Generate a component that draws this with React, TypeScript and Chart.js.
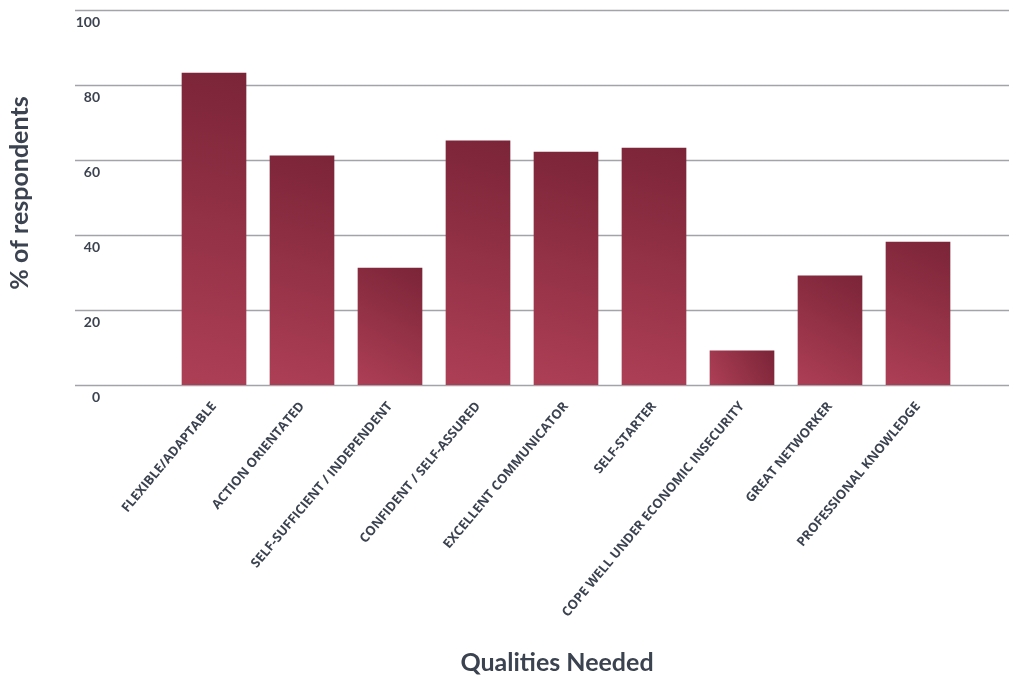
import { useEffect, useRef } from "react";
import { Chart, registerables } from "chart.js";

Chart.register(...registerables);

// Qualities and the share of respondents who named each one
const qualities = [
  "FLEXIBLE/ADAPTABLE",
  "ACTION ORIENTATED",
  "SELF-SUFFICIENT / INDEPENDENT",
  "CONFIDENT / SELF-ASSURED",
  "EXCELLENT COMMUNICATOR",
  "SELF-STARTER",
  "COPE WELL UNDER ECONOMIC INSECURITY",
  "GREAT NETWORKER",
  "PROFESSIONAL KNOWLEDGE",
];
const respondentShare = [83.2, 61.1, 31.2, 65.1, 62.1, 63.2, 9.1, 29.1, 38.1];
const yTickValues = [0, 20, 40, 60, 80, 100];

const xTitle = "Qualities Needed";
const yTitle = "% of respondents";

const TEXT = "#3c4350";
const BAR_DARK = "#7b2438";
const BAR_LIGHT = "#ad3f55";
const GRID = "#a2a4a9";
const BAR_HALF = 32;

// Horizontal rules, value labels and axis titles drawn straight from the y scale
const framePlugin = {
  id: "frame",
  beforeDatasetsDraw(chart: any) {
    const { ctx, scales } = chart;
    const y = scales.y;
    ctx.save();
    ctx.strokeStyle = GRID;
    ctx.lineWidth = 1.5;
    yTickValues.forEach((v) => {
      const py = Math.round(y.getPixelForValue(v)) + 0.5;
      ctx.beginPath();
      ctx.moveTo(75, py);
      ctx.lineTo(chart.width, py);
      ctx.stroke();
    });
    ctx.restore();
  },
  afterDraw(chart: any) {
    const { ctx, scales } = chart;
    const y = scales.y;
    ctx.save();
    ctx.fillStyle = TEXT;
    ctx.font = "bold 14px Lato";
    ctx.textAlign = "right";
    ctx.textBaseline = "middle";
    yTickValues.forEach((v) => {
      ctx.fillText(String(v), 100, y.getPixelForValue(v) + 12);
    });

    ctx.font = "bold 25px Lato";
    ctx.textAlign = "center";
    ctx.fillText(xTitle, 557, 663);

    ctx.translate(20, 193);
    ctx.rotate(-Math.PI / 2);
    ctx.fillText(yTitle, 0, 0);
    ctx.restore();
  },
};

function barFill(c: any) {
  const chart = c.chart;
  const x = chart.scales.x;
  const y = chart.scales.y;
  if (c.type !== "data" || !x || !y || !chart.chartArea) return BAR_LIGHT;
  const i = c.dataIndex;
  const cx = x.getPixelForValue(i);
  const top = y.getPixelForValue(respondentShare[i]);
  const base = y.getPixelForValue(0);
  const g = chart.ctx.createLinearGradient(cx + BAR_HALF, top, cx - BAR_HALF, base);
  g.addColorStop(0, BAR_DARK);
  g.addColorStop(1, BAR_LIGHT);
  return g;
}

export default function App() {
  const canvasRef = useRef<HTMLCanvasElement>(null);

  useEffect(() => {
    if (!canvasRef.current) return;
    const chart = new Chart(canvasRef.current, {
      type: "bar",
      data: {
        labels: qualities,
        datasets: [
          {
            data: respondentShare,
            backgroundColor: barFill,
            barThickness: BAR_HALF * 2,
            borderWidth: 0,
          },
        ],
      },
      options: {
        responsive: false,
        animation: false,
        devicePixelRatio: 1,
        layout: { padding: { left: 170, right: 47, top: 10, bottom: 0 } },
        plugins: {
          legend: { display: false },
          tooltip: { enabled: false },
        },
        scales: {
          x: {
            grid: { display: false },
            border: { display: false },
            ticks: {
              autoSkip: false,
              minRotation: 50,
              maxRotation: 50,
              padding: 6,
              color: TEXT,
              font: { family: "'Open Sans'", weight: "bold", size: 13 },
            },
            afterFit: (scale: any) => {
              scale.height = 291;
            },
          },
          y: {
            display: false,
            min: 0,
            max: 100,
          },
        },
      },
      plugins: [framePlugin],
    });
    return () => chart.destroy();
  }, []);

  return (
    <div style={{ position: "fixed", left: 0, top: 0, width: 1009, height: 676, background: "#fff" }}>
      <canvas ref={canvasRef} width={1009} height={676} style={{ display: "block" }} />
    </div>
  );
}
